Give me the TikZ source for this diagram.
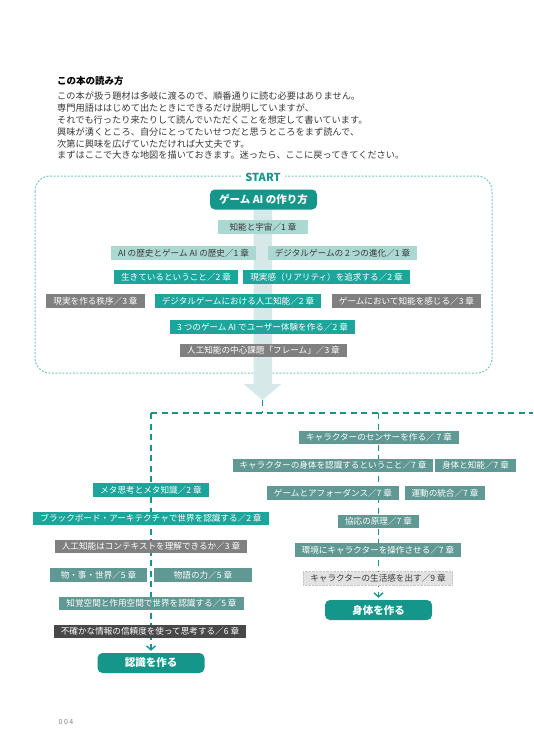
\documentclass[tikz,border=0pt]{standalone}
\usepackage{fontspec}
\setmainfont{Noto Sans CJK JP}
\usepackage{tikz}
\usetikzlibrary{arrows.meta, backgrounds}
\definecolor{deepteal}{RGB}{20,150,138}
\definecolor{brightteal}{RGB}{28,166,155}
\definecolor{slateteal}{RGB}{96,152,148}
\definecolor{midgray}{RGB}{128,128,128}
\definecolor{charcoal}{RGB}{72,72,72}
\definecolor{paleteal}{RGB}{172,216,210}
\definecolor{palegray}{RGB}{226,226,226}
\definecolor{bandteal}{RGB}{214,232,232}
\definecolor{edgeteal}{RGB}{118,196,192}
\definecolor{inkgray}{RGB}{55,55,55}

\begin{document}
\begin{tikzpicture}[
    x=1pt, y=-1pt,
    chap/.style={rectangle, inner xsep=7pt, inner ysep=0pt,
                 minimum height=13.8pt, text=white,
                 font=\fontsize{8.6}{8.6}\selectfont},
    chapone/.style={chap, fill=paleteal, text=inkgray},
    chaptwo/.style={chap, fill=brightteal},
    chapthree/.style={chap, fill=midgray},
    chapslate/.style={chap, fill=slateteal},
    chapsix/.style={chap, fill=charcoal},
    chapnine/.style={chap, fill=palegray, text=inkgray, draw=gray!45, densely dotted},
    goal/.style={rectangle, rounded corners=5pt, fill=deepteal, text=white,
                 minimum width=107pt, minimum height=20pt,
                 font=\fontsize{10.5}{10.5}\selectfont\bfseries},
    flow/.style={deepteal, line width=1.4pt, dash pattern=on 6pt off 4.5pt},
    frame/.style={edgeteal, line width=1pt, dash pattern=on 2pt off 1.5pt, rounded corners=15pt},
    chevron/.style={-{Straight Barb[length=4pt, width=9pt]}, shorten >=2pt}
]
\useasboundingbox (0,0) rectangle (533,744);

% introduction
\node[anchor=west, inner sep=0pt, font=\fontsize{9.5}{9.5}\selectfont\bfseries] (heading) at (57,81) {この本の読み方};
\node[anchor=north west, align=left, inner sep=0pt, text=inkgray,
      font=\fontsize{9.2}{11.8}\selectfont] (intro) at (57,92)
  {この本が扱う題材は多岐に渡るので、順番通りに読む必要はありません。\\
   専門用語ははじめて出たときにできるだけ説明していますが、\\
   それでも行ったり来たりして読んでいただくことを想定して書いています。\\
   興味が湧くところ、自分にとってたいせつだと思うところをまず読んで、\\
   次第に興味を広げていただければ大丈夫です。\\
   まずはここで大きな地図を描いておきます。迷ったら、ここに戻ってきてください。};

% START area
\node[fill=white, inner xsep=4pt, inner ysep=1pt, text=deepteal,
      font=\fontsize{11}{11}\selectfont\bfseries] (start) at (263,177) {START};
\node[goal] (howto) at (263.5,199.5) {ゲーム AI の作り方};
\node[chapone, minimum width=90pt] (cosmos) at (263,227) {知能と宇宙／1 章};
\node[chapone]   (history)  at (183.5,253) {AI の歴史とゲーム AI の歴史／1 章};
\node[chapone]   (twoevo)   at (342.5,253) {デジタルゲームの 2 つの進化／1 章};
\node[chaptwo]   (living)   at (176,277)   {生きているということ／2 章};
\node[chaptwo]   (reality)  at (326.5,277) {現実感（リアリティ）を追求する／2 章};
\node[chapthree] (order)    at (95.5,301)  {現実を作る秩序／3 章};
\node[chaptwo]   (digiai)   at (238,301)   {デジタルゲームにおける人工知能／2 章};
\node[chapthree] (feel)     at (406.5,301) {ゲームにおいて知能を感じる／3 章};
\node[chaptwo]   (threeai)  at (262.5,327) {3 つのゲーム AI でユーザー体験を作る／2 章};
\node[chapthree] (frameprb) at (263.5,350.5) {人工知能の中心課題「フレーム」／3 章};

% body branch
\node[chapslate] (sensor)   at (379,437.5)   {キャラクターのセンサーを作る／ 7 章};
\node[chapslate] (bodyrec)  at (333,465.5)   {キャラクターの身体を認識するということ／7 章};
\node[chapslate] (bodyint)  at (475.5,465.5) {身体と知能／7 章};
\node[chapslate] (afford)   at (333,493)     {ゲームとアフォーダンス／7 章};
\node[chapslate] (motion)   at (445,493)     {運動の統合／7 章};
\node[chapslate] (coord)    at (378.5,521.5) {協応の原理／7 章};
\node[chapslate] (envop)    at (378,550)     {環境にキャラクターを操作させる／7 章};
\node[chapnine]  (lifelike) at (378,578.5)   {キャラクターの生活感を出す／9 章};
\node[goal]      (makebody) at (378.5,610)   {身体を作る};

% recognition branch
\node[chaptwo]   (meta)     at (151,490)     {メタ思考とメタ知識／2 章};
\node[chaptwo]   (board)    at (151,518.5)   {ブラックボード・アーキテクチャで世界を認識する／2 章};
\node[chapthree] (context)  at (151,546.5)   {人工知能はコンテキストを理解できるか／3 章};
\node[chapslate, minimum width=97pt] (things) at (98.5,575) {物・事・世界／5 章};
\node[chapslate, minimum width=98pt] (story)  at (203,575)  {物語の力／5 章};
\node[chapslate] (percept)  at (151.5,603.5) {知覚空間と作用空間で世界を認識する／5 章};
\node[chapsix]   (belief)   at (150,631.5)   {不確かな情報の信頼度を使って思考する／6 章};
\node[goal]      (makerec)  at (151,663)     {認識を作る};

\node[text=gray, inner sep=0pt, font=\fontsize{7}{7}\selectfont] (folio) at (66,722) {0\hspace{1.5pt}0\hspace{1.5pt}4};

\coordinate (tip)     at (262.5,400);
\coordinate (split)   at (262.5,413);
\coordinate (lcorner) at (151,413);
\coordinate (rfork)   at (378.5,413);
\coordinate (redge)   at (533,413);

\begin{scope}[on background layer]
  \draw[frame] (35,176) rectangle (492,373);
  \fill[bandteal] (howto.south -| 253.5,0) -- (howto.south -| 272,0) -- (272,384)
      -- (281.5,384) -- (tip) -- (243.5,384) -- (253.5,384) -- cycle;
  \draw[flow] (tip) -- (split);
  \draw[flow] (lcorner) -- (redge);
  \draw[flow, chevron] (lcorner) -- (makerec.north);
  \draw[flow, chevron] (rfork) -- (makebody.north);
\end{scope}

\end{tikzpicture}
\end{document}
